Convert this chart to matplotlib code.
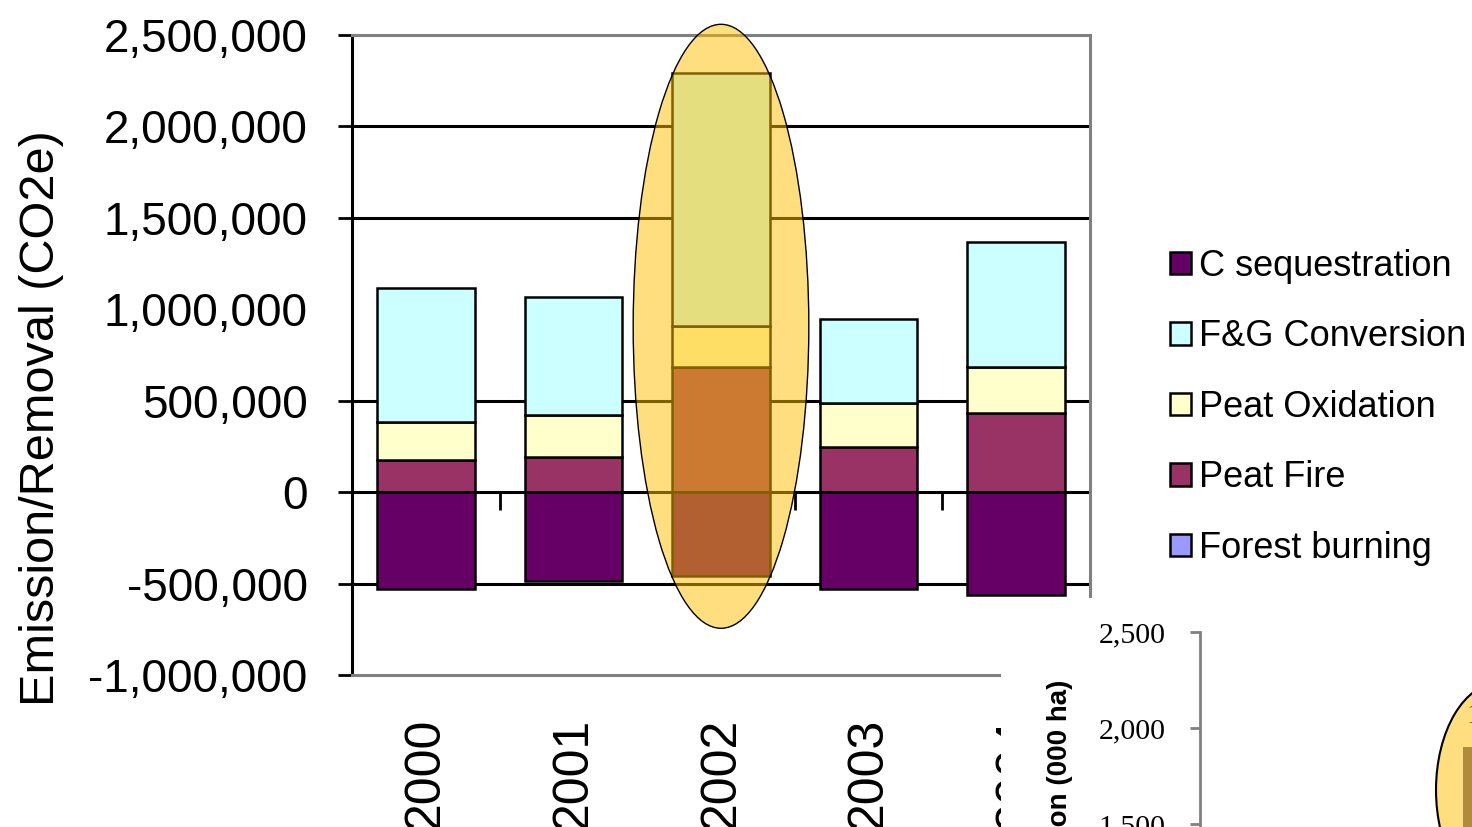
import numpy as np
import matplotlib
matplotlib.use("Agg")
import matplotlib.pyplot as plt
from matplotlib.patches import Ellipse, Rectangle
from matplotlib.ticker import FuncFormatter

# emission / removal per year (CO2e), stacked from the bottom up
years = ["2000", "2001", "2002", "2003", "2004"]
forest_burning = [0, 0, 0, 0, 0]
peat_fire = [175000, 191000, 684000, 246000, 432000]
peat_oxidation = [208000, 230000, 224000, 241000, 252000]
fg_conversion = [733000, 646000, 1384000, 459000, 683000]
c_sequestration = [-530000, -487000, -459000, -530000, -563000]

y_ticks = [-1000000, -500000, 0, 500000, 1000000, 1500000, 2000000, 2500000]
grid_levels = [-500000, 0, 500000, 1500000, 2000000]

# conversion area panel (000 ha), only the highlighted bar shows
area_ticks = [1500, 2000, 2500]
area_value = [1900]

W, H = 1472, 827
fig = plt.figure(figsize=(W / 100, H / 100), dpi=100)
fig.patch.set_facecolor("white")

ax = fig.add_axes([352 / W, 152 / H, 738 / W, 640 / H])
x = np.arange(len(years))
bar_w = 0.66
edge = dict(edgecolor="black", linewidth=1.8, zorder=2)

bottom = np.zeros(len(years))
h_fb = ax.bar(x, forest_burning, bar_w, bottom=bottom, color="#9999FF", **edge)
bottom += forest_burning
h_pf = ax.bar(x, peat_fire, bar_w, bottom=bottom, color="#993366", **edge)
bottom += peat_fire
h_po = ax.bar(x, peat_oxidation, bar_w, bottom=bottom, color="#FFFFCC", **edge)
bottom += peat_oxidation
h_fg = ax.bar(x, fg_conversion, bar_w, bottom=bottom, color="#CCFFFF", **edge)
h_cs = ax.bar(x, c_sequestration, bar_w, color="#660066", **edge)

for lvl in grid_levels:
    ax.axhline(lvl, color="black", lw=2.2, zorder=1)

ax.set_xlim(-0.5, len(years) - 0.5)
ax.set_ylim(y_ticks[0], y_ticks[-1])

for side in ("top", "right", "bottom"):
    ax.spines[side].set_color("#808080")
    ax.spines[side].set_linewidth(2.2)
ax.spines["left"].set_color("black")
ax.spines["left"].set_linewidth(2.2)

ax.set_yticks(y_ticks)
ax.yaxis.set_major_formatter(FuncFormatter(lambda v, p: f"{v:,.0f}"))
ax.tick_params(axis="y", direction="out", length=10, width=2, pad=22,
               labelsize=33, labelfontfamily="Liberation Sans")
ax.yaxis.get_major_ticks()[4].tick1line.set_visible(False)

ax.set_xticks(x, years, rotation=90, va="top")
ax.tick_params(axis="x", length=0, pad=31, labelsize=36,
               labelfontfamily="Liberation Sans")

# category ticks sit on the zero line
zero_pos = (0 - y_ticks[0]) / (y_ticks[-1] - y_ticks[0])
sec = ax.secondary_xaxis(zero_pos)
sec.set_xticks([0.5, 2.5, 3.5, 4.5])
sec.tick_params(direction="out", length=13, width=2, labelbottom=False)
sec.spines["bottom"].set_visible(False)

# highlight on 2002
ax.add_patch(Ellipse((2, 907000), 1.19, 3303000, facecolor=(1, 0.75, 0, 0.5),
                     edgecolor="black", lw=1, zorder=5, clip_on=False))

fig.text(42 / W, 1 - 418 / H, "Emission/Removal (CO2e)", rotation=90,
         ha="center", va="center", fontsize=35, family="Liberation Sans")

leg = ax.legend([h_cs, h_fg, h_po, h_pf, h_fb],
                ["C sequestration", "F&G Conversion", "Peat Oxidation",
                 "Peat Fire", "Forest burning"],
                loc="upper left", bbox_to_anchor=(1170 / W, 1 - 249 / H),
                bbox_transform=fig.transFigure, frameon=False,
                prop={"family": "Liberation Sans", "size": 26},
                handlelength=0.58, handleheight=0.58, handletextpad=0.22,
                labelspacing=0.98, borderpad=0, borderaxespad=0)

# second panel pasted over the lower right corner
fig.patches.append(Rectangle((1001 / W, 0), 1 - 1001 / W, 1 - 598 / H,
                             transform=fig.transFigure, facecolor="white",
                             edgecolor="none", zorder=1))

ax2 = fig.add_axes([1200 / W, 0, 400 / W, 195 / H], zorder=2)
ax2.patch.set_visible(False)
ax2.set_xlim(0, 4)
ax2.set_ylim(1484, 2500)
for side in ("top", "right", "bottom"):
    ax2.spines[side].set_visible(False)
ax2.spines["left"].set_color("#808080")
ax2.spines["left"].set_linewidth(2)
ax2.set_xticks([])
ax2.set_yticks(area_ticks)
ax2.yaxis.set_major_formatter(FuncFormatter(lambda v, p: f"{v:,.0f}"))
ax2.tick_params(axis="y", direction="out", length=7, width=2, color="#808080",
                pad=18, labelsize=21.5, labelfontfamily="Liberation Serif")

ax2.bar([3.0], area_value, 0.74, color="#5f5878", zorder=2)
ax2.text(3.0, area_value[0] + 100, f"{area_value[0]:,}", ha="center",
         va="bottom", fontsize=21.5, family="Liberation Serif", zorder=3,
         clip_on=False)
ax2.add_patch(Ellipse((3.0, 1677), 1.28, 1120, facecolor=(1, 0.75, 0, 0.5),
                      edgecolor="black", lw=1.5, zorder=4, clip_on=False))

fig.text(1060 / W, 1 - 680 / H, "Conversion (000 ha)", rotation=90,
         ha="center", va="top", fontsize=20, fontweight="bold",
         family="Liberation Sans", zorder=3)

fig.savefig("out.png", dpi=100)
